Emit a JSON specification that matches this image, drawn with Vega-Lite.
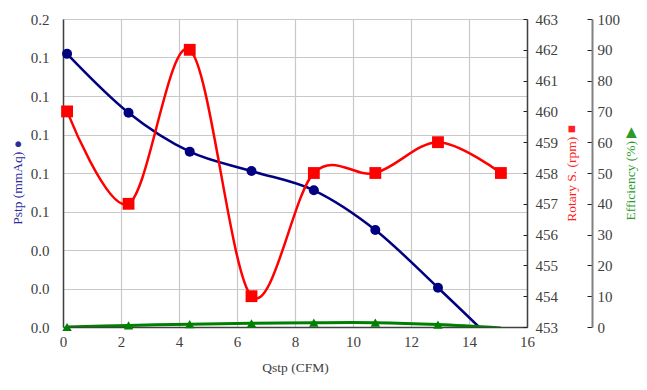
{
  "$schema": "https://vega.github.io/schema/vega-lite/v6.json",
  "width": 464,
  "height": 308,
  "autosize": {"type": "none"},
  "padding": {"left": 63, "top": 19, "right": 120, "bottom": 63},
  "background": "white",
  "config": {
    "font": "Liberation Serif",
    "view": {"stroke": null},
    "axis": {
      "labelFont": "Liberation Serif",
      "titleFont": "Liberation Serif",
      "labelFontSize": 15,
      "titleFontSize": 13.5,
      "titleFontWeight": "normal",
      "labelColor": "#404040",
      "titleColor": "#404040",
      "domainColor": "#404040",
      "domainWidth": 1.5,
      "gridColor": "#c8c8c8",
      "gridWidth": 1.2,
      "tickColor": "#202020",
      "labelOverlap": false,
      "labelFlush": false
    }
  },
  "data": {
    "values": [
      {"Q": 0.14, "P": 0.1419, "R": 460, "E": 0.0},
      {"Q": 2.26, "P": 0.1113, "R": 457, "E": 0.5},
      {"Q": 4.37, "P": 0.0911, "R": 462, "E": 0.9},
      {"Q": 6.5, "P": 0.0810, "R": 454, "E": 1.2},
      {"Q": 8.65, "P": 0.0710, "R": 458, "E": 1.4},
      {"Q": 10.77, "P": 0.0504, "R": 458, "E": 1.4},
      {"Q": 12.93, "P": 0.0204, "R": 459, "E": 0.8},
      {"Q": 15.1, "P": -0.011, "R": 458, "E": -0.3}
    ]
  },
  "encoding": {
    "x": {
      "field": "Q",
      "type": "quantitative",
      "scale": {"domain": [0, 16], "nice": false},
      "axis": {
        "title": "Qstp (CFM)",
        "values": [0, 2, 4, 6, 8, 10, 12, 14, 16],
        "tickCount": 9,
        "ticks": false,
        "labelOverlap": false,
        "labelPadding": 7,
        "titlePadding": 11,
        "grid": true
      }
    }
  },
  "layer": [
    {
      "layer": [
        {
          "mark": {"type": "line", "interpolate": "cardinal", "tension": 0, "color": "#000080", "strokeWidth": 2.5, "clip": true},
          "encoding": {
            "y": {
              "field": "P",
              "type": "quantitative",
              "scale": {"domain": [0, 0.16], "nice": false},
              "axis": {
                "orient": "left",
                "title": "Pstp (mmAq)  ●",
                "titleColor": "#2b2b9a",
                "titleY": 163,
                "values": [0, 0.02, 0.04, 0.06, 0.08, 0.1, 0.12, 0.14, 0.16],
                "tickCount": 9,
                "format": ".1f",
                "ticks": false,
                "labelOverlap": false,
                "labelPadding": 14,
                "titlePadding": 6,
                "grid": true
              }
            }
          }
        },
        {
          "transform": [{"filter": "datum.P >= 0"}],
          "mark": {"type": "point", "shape": "circle", "filled": true, "opacity": 1, "color": "#000080", "size": 100},
          "encoding": {
            "y": {"field": "P", "type": "quantitative", "scale": {"domain": [0, 0.16], "nice": false}}
          }
        }
      ]
    },
    {
      "layer": [
        {
          "mark": {"type": "line", "interpolate": "cardinal", "tension": 0, "color": "#ff0000", "strokeWidth": 2.5, "clip": true},
          "encoding": {
            "y": {
              "field": "R",
              "type": "quantitative",
              "scale": {"domain": [453, 463], "nice": false, "zero": false},
              "axis": {
                "orient": "right",
                "title": "Rotary S. (rpm)  ■",
                "titleColor": "#ff2020",
                "titleAngle": 270,
                "values": [453, 454, 455, 456, 457, 458, 459, 460, 461, 462, 463],
                "tickCount": 11,
                "tickSize": -4,
                "labelOverlap": false,
                "labelPadding": 12,
                "titlePadding": 21,
                "grid": false
              }
            }
          }
        },
        {
          "mark": {"type": "point", "shape": "square", "filled": true, "opacity": 1, "color": "#ff0000", "size": 140},
          "encoding": {
            "y": {"field": "R", "type": "quantitative", "scale": {"domain": [453, 463], "nice": false, "zero": false}}
          }
        }
      ]
    },
    {
      "layer": [
        {
          "mark": {"type": "line", "interpolate": "cardinal", "tension": 0, "color": "#008000", "strokeWidth": 3, "clip": true},
          "encoding": {
            "y": {
              "field": "E",
              "type": "quantitative",
              "scale": {"domain": [0, 100], "nice": false},
              "axis": {
                "orient": "right",
                "offset": 65,
                "title": "Efficiency (%)  ▶",
                "titleColor": "#2a9a2a",
                "titleAngle": 270,
                "values": [0, 10, 20, 30, 40, 50, 60, 70, 80, 90, 100],
                "tickCount": 11,
                "domainColor": "#808080",
                "domainWidth": 2,
                "tickSize": -5,
                "labelOverlap": false,
                "labelPadding": 10,
                "titlePadding": 18,
                "grid": false
              }
            }
          }
        },
        {
          "transform": [{"filter": "datum.E >= 0"}],
          "mark": {"type": "point", "shape": "triangle-up", "filled": true, "opacity": 1, "color": "#008000", "size": 90},
          "encoding": {
            "y": {"field": "E", "type": "quantitative", "scale": {"domain": [0, 100], "nice": false}}
          }
        }
      ]
    }
  ],
  "resolve": {"scale": {"y": "independent"}, "axis": {"y": "independent"}}
}
